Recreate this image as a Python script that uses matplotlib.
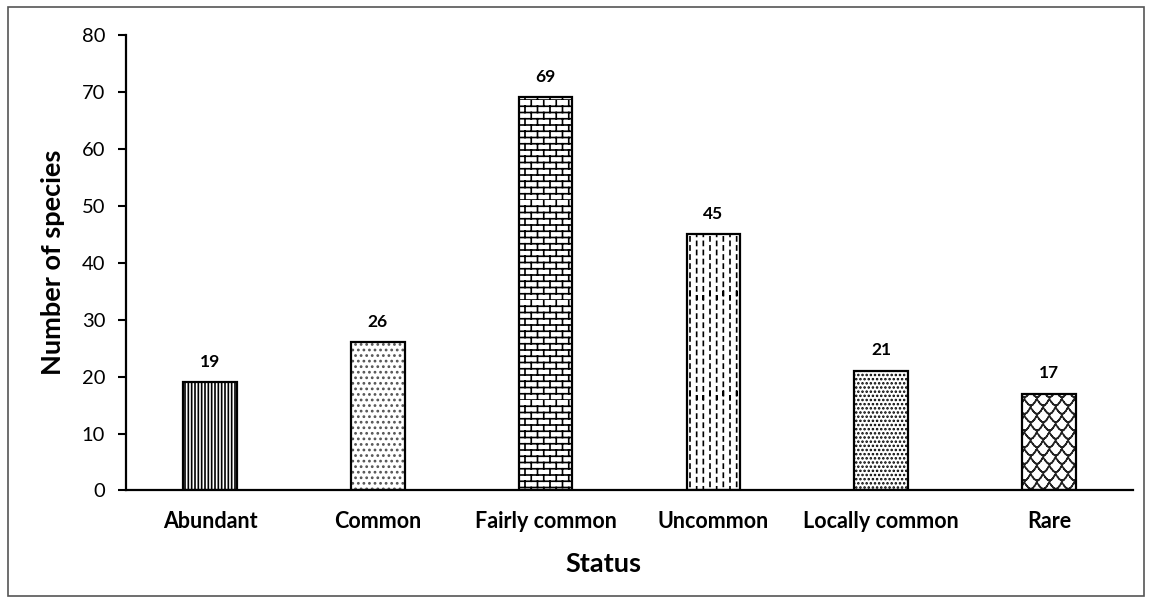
import warnings
import numpy as np
import matplotlib
matplotlib.use("Agg")
import matplotlib.pyplot as plt
from matplotlib import hatch as mhatch
from matplotlib.path import Path
from matplotlib.patches import Rectangle

warnings.filterwarnings("ignore")

# ---- data ----
categories = ["Abundant", "Common", "Fairly common", "Uncommon", "Locally common", "Rare"]
species_counts = [19, 26, 69, 45, 21, 17]
y_ticks = [0, 10, 20, 30, 40, 50, 60, 70, 80]


# ---- extra hatch patterns (brick, vertical dashes, scales) ----
class _SegmentHatch(mhatch.HatchPatternBase):
    char = ""

    def __init__(self, hatch, density):
        self.segments = self.build() if self.char in (hatch or "") else []
        self.num_vertices = 2 * len(self.segments)

    def build(self):
        return []

    def set_vertices_and_codes(self, vertices, codes):
        seg = np.asarray(self.segments, dtype=float).reshape(-1, 4)
        vertices[0::2, 0] = seg[:, 0]
        vertices[0::2, 1] = seg[:, 1]
        vertices[1::2, 0] = seg[:, 2]
        vertices[1::2, 1] = seg[:, 3]
        codes[0::2] = Path.MOVETO
        codes[1::2] = Path.LINETO


class BrickHatch(_SegmentHatch):
    char = "b"

    def build(self):
        rows, cols = 16, 8
        segs = []
        for r in range(rows):
            y0, y1 = r / rows, (r + 1) / rows
            segs.append((0.0, y0, 1.0, y0))
            shift = 0.5 * (r % 2)
            for c in range(cols + 1):
                x = (c + shift) / cols
                if 0.0 <= x <= 1.0:
                    segs.append((x, y0, x, y1))
        return segs


class DashHatch(_SegmentHatch):
    char = "k"

    def build(self):
        cols, per = 15, 11
        p = 1.0 / per
        segs = []
        for c in range(cols):
            x = (c + 0.5) / cols
            off = 0.5 * p * (c % 2)
            for k in range(per + 1):
                y0 = k * p + off
                y1 = y0 + 0.45 * p
                for dy in (0.0, -1.0):
                    segs.append((x, y0 + dy, x, y1 + dy))
        return segs


class ScaleHatch(_SegmentHatch):
    char = "w"

    def build(self):
        cols, rows = 8, 12
        w, h = 1.0 / cols, 1.0 / rows
        t = np.linspace(0, 1, 9)
        segs = []
        for r in range(rows + 1):
            y = r * h
            shift = 0.5 * w * (r % 2)
            for c in range(-1, cols + 1):
                x0 = c * w + shift
                xs = x0 + w * t
                ys = y - 0.8 * h * np.sin(np.pi * t) + 0.3 * h * t
                for i in range(len(t) - 1):
                    for dx in (0.0, -1.0, 1.0):
                        segs.append((xs[i] + dx, ys[i], xs[i + 1] + dx, ys[i + 1]))
        return segs


for _cls in (BrickHatch, DashHatch, ScaleHatch):
    if _cls not in mhatch._hatch_types:
        mhatch._hatch_types.append(_cls)

bar_hatches = ["|||||", "...", "b", "k", "....", "w"]
hatch_colors = ["black", "#555555", "black", "black", "black", "#222222"]

plt.rcParams["font.family"] = ["Lato", "DejaVu Sans"]
plt.rcParams["hatch.linewidth"] = 1.2

fig = plt.figure(figsize=(11.52, 6.06), dpi=100)
ax = fig.add_axes([0.1094, 0.1906, 0.8741, 0.7524])

x = np.arange(len(categories))
width = 0.32

# hatched fill, then a solid black outline on top
ax.bar(x, species_counts, width=width, color="white", edgecolor=hatch_colors,
       hatch=bar_hatches, linewidth=0, zorder=2)
ax.bar(x, species_counts, width=width, color="none", edgecolor="black",
       linewidth=1.6, zorder=3)

for xi, v in zip(x, species_counts):
    ax.annotate(str(v), (xi, v), xytext=(0, 9), textcoords="offset points",
                ha="center", va="bottom", fontsize=12.5, fontweight="bold")

ax.set_xlim(-0.5, len(categories) - 0.5)
ax.set_ylim(0, 80)
ax.set_yticks(y_ticks)
ax.set_xticks(x)
ax.set_xticklabels(categories, fontsize=15.5, fontweight="bold")
ax.tick_params(axis="x", length=0, pad=15)
ax.tick_params(axis="y", length=6, width=1.5, labelsize=14.5, pad=9)

for side in ("top", "right"):
    ax.spines[side].set_visible(False)
for side in ("left", "bottom"):
    ax.spines[side].set_linewidth(1.6)

ax.set_xlabel("Status", fontsize=19.5, fontweight="bold")
ax.xaxis.set_label_coords(0.474, -0.135)
ax.set_ylabel("Number of species", fontsize=19.5, fontweight="bold", labelpad=12)

# outer frame around the whole chart
fig.patches.append(Rectangle((8 / 1152, 1 - 596 / 606), (1144 - 8) / 1152, (596 - 7) / 606,
                             transform=fig.transFigure, fill=False,
                             edgecolor="#555555", linewidth=1.2))

fig.savefig("out.png", dpi=100)
